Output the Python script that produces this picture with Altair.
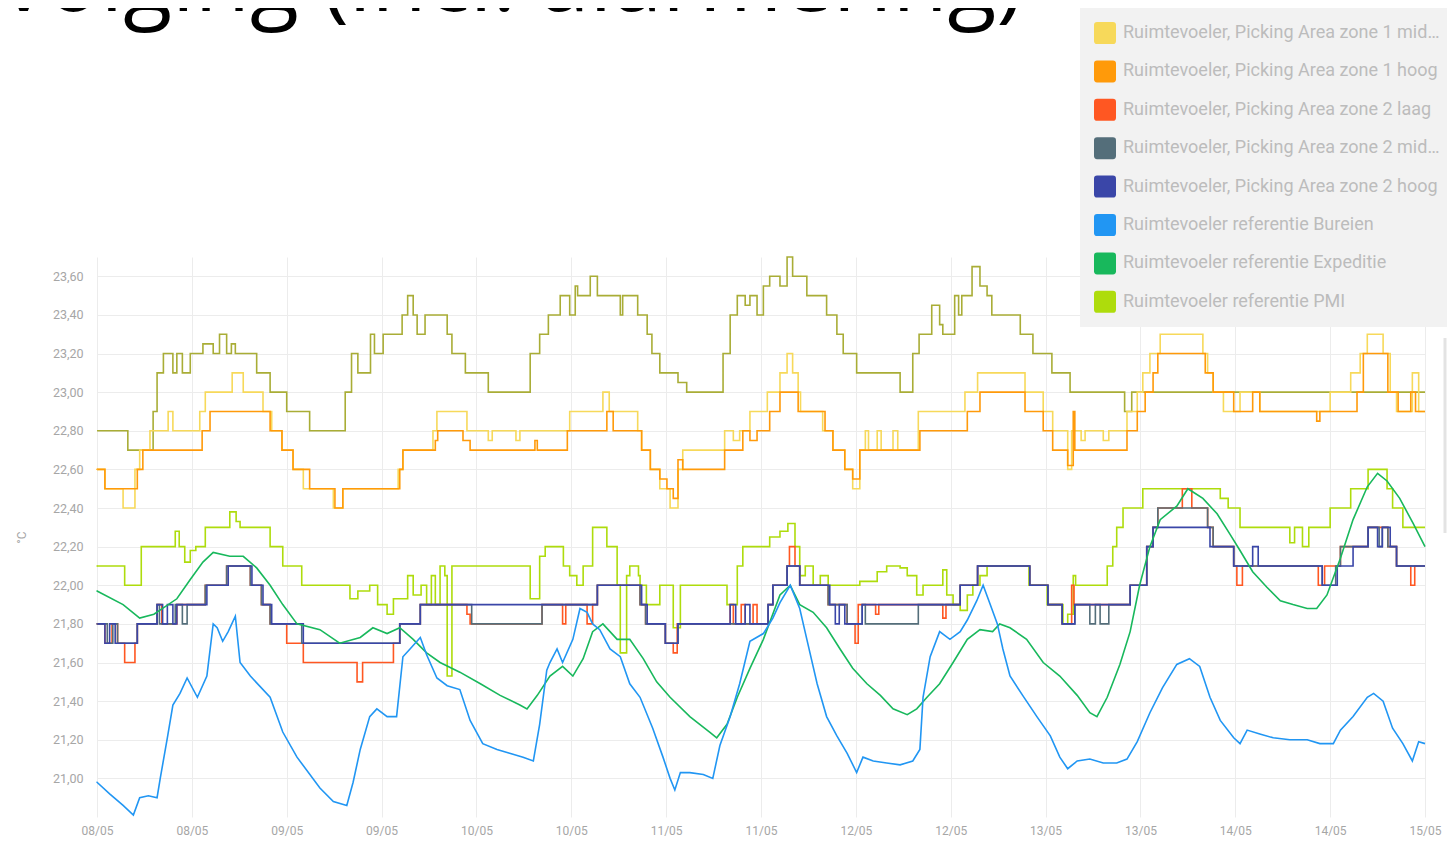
import altair as alt
import pandas as pd

TITLE = "Temperatuuropvolging (incl. alarmering)"
START = pd.Timestamp("2019-05-08 00:00:00")

NAMES = [
    "Ruimtevoeler, Picking Area zone 1 laag",
    "Ruimtevoeler, Picking Area zone 1 midden",
    "Ruimtevoeler, Picking Area zone 1 hoog",
    "Ruimtevoeler, Picking Area zone 2 laag",
    "Ruimtevoeler, Picking Area zone 2 midden",
    "Ruimtevoeler, Picking Area zone 2 hoog",
    "Ruimtevoeler referentie Bureien",
    "Ruimtevoeler referentie Expeditie",
    "Ruimtevoeler referentie PMI",
]
COLORS = ["#a9ad36", "#f7d95a", "#ff9a0a", "#ff5722", "#546e7a", "#3a46a8",
          "#2196f3", "#18b85c", "#aedc0c"]

Y_TICKS = [21.0, 21.2, 21.4, 21.6, 21.8, 22.0, 22.2, 22.4, 22.6, 22.8, 23.0, 23.2, 23.4, 23.6]
X_TICK_HOURS = [0, 12, 24, 36, 48, 60, 72, 84, 96, 108, 120, 132, 144, 156, 168]

# (hours since 08/05 00:00, °C) — stepped sensors
ZONE1_LAAG = [(0,22.8),(3.9,22.7),(7.1,22.9),(7.6,23.1),(8.4,23.2),(9.6,23.1),(10.1,23.2),(10.8,23.1),
    (11.8,23.2),(13.4,23.25),(14.7,23.2),(15.5,23.3),(16.4,23.2),(17.0,23.25),(17.5,23.2),(20.2,23.1),
    (21.9,23.0),(24.0,22.9),(26.9,22.8),(31.4,23.0),(32.2,23.2),(33.0,23.1),(34.6,23.3),(35.1,23.2),
    (36.2,23.3),(38.6,23.4),(39.3,23.5),(40.0,23.4),(40.5,23.3),(41.5,23.4),(44.3,23.3),(44.9,23.2),
    (46.6,23.1),(49.5,23.0),(54.8,23.2),(56.0,23.3),(57.1,23.4),(58.6,23.5),(59.8,23.4),(60.5,23.55),
    (60.8,23.5),(62.4,23.6),(63.3,23.5),(66.2,23.4),(66.5,23.5),(68.4,23.4),(69.6,23.3),(70.2,23.2),
    (71.2,23.1),(73.5,23.05),(74.6,23.0),(79.2,23.2),(80.1,23.4),(81.0,23.5),(82.0,23.45),(82.6,23.5),
    (83.5,23.4),(84.3,23.55),(85.1,23.6),(86.4,23.55),(87.3,23.7),(88.0,23.6),(89.8,23.5),(92.3,23.4),
    (93.6,23.3),(94.4,23.2),(96.1,23.1),(101.6,23.0),(103.2,23.2),(104.0,23.3),(105.6,23.45),(106.6,23.35),
    (107.0,23.3),(108.5,23.5),(109.0,23.4),(109.4,23.5),(110.7,23.65),(111.7,23.55),(112.6,23.5),(113.2,23.4),
    (116.8,23.3),(118.4,23.2),(120.8,23.1),(123.1,23.0),(130.0,22.9),(130.9,23.0),(168.0,23.0)]

ZONE1_MIDDEN = [(0,22.6),(1.0,22.5),(3.3,22.4),(4.8,22.6),(5.4,22.7),(6.7,22.8),(9.0,22.9),(9.6,22.8),
    (13.0,22.9),(13.7,23.0),(17.1,23.1),(18.5,23.0),(21.0,22.9),(22.1,22.8),(23.4,22.7),(24.8,22.6),
    (26.1,22.5),(29.9,22.4),(31.1,22.5),(38.1,22.6),(38.7,22.7),(42.5,22.8),(43.0,22.9),(46.8,22.8),
    (49.5,22.75),(50.0,22.8),(53.0,22.75),(53.5,22.8),(59.8,22.9),(64.0,23.0),(64.8,22.9),(68.4,22.8),
    (68.9,22.7),(70.0,22.6),(71.2,22.5),(72.5,22.4),(73.5,22.6),(74.1,22.7),(79.4,22.8),(80.5,22.75),
    (81.3,22.8),(82.6,22.9),(84.8,23.0),(86.4,23.1),(87.3,23.2),(88.0,23.1),(88.7,23.0),(89.0,22.9),
    (91.8,22.8),(93.1,22.7),(94.6,22.6),(95.6,22.5),(96.5,22.7),(97.2,22.8),(97.6,22.7),(98.7,22.8),
    (99.2,22.7),(100.7,22.8),(101.3,22.7),(103.9,22.9),(109.8,23.0),(111.4,23.1),(117.4,23.0),(119.7,22.9),
    (120.9,22.8),(122.8,22.6),(123.3,22.8),(124.5,22.75),(125.0,22.8),(127.3,22.75),(128.0,22.8),
    (130.3,22.9),(131.6,23.0),(132.3,23.1),(133.2,23.2),(134.5,23.3),(139.9,23.2),(140.5,23.1),(141.2,23.0),
    (142.5,22.9),(144.6,23.0),(147.1,22.9),(156.0,23.0),(158.6,23.1),(159.8,23.2),(160.7,23.3),(162.7,23.2),
    (163.6,23.0),(164.4,22.9),(166.4,23.1),(167.2,22.9),(168.0,22.9)]

ZONE1_HOOG = [(0,22.6),(1.0,22.5),(5.1,22.6),(5.8,22.7),(13.3,22.8),(14.3,22.9),(21.9,22.8),(23.4,22.7),
    (24.8,22.6),(26.9,22.5),(30.1,22.4),(31.1,22.5),(38.3,22.6),(38.7,22.7),(42.8,22.75),(43.1,22.8),
    (46.3,22.75),(47.2,22.7),(55.4,22.75),(55.7,22.7),(59.5,22.8),(64.5,22.9),(65.3,22.8),(68.9,22.7),
    (70.0,22.6),(71.2,22.55),(72.1,22.5),(72.9,22.45),(73.5,22.65),(74.1,22.6),(79.4,22.7),(81.7,22.8),
    (82.6,22.75),(83.5,22.8),(85.1,22.9),(86.4,23.0),(88.7,22.9),(92.1,22.8),(93.1,22.7),(94.6,22.6),
    (95.6,22.55),(96.5,22.7),(104.1,22.8),(110.1,22.9),(111.7,23.0),(117.4,22.9),(119.7,22.8),(120.9,22.7),
    (122.8,22.62),(123.5,22.9),(123.7,22.7),(130.3,22.8),(131.6,22.9),(132.6,23.0),(133.6,23.1),(134.2,23.2),
    (140.2,23.1),(141.2,23.0),(143.8,22.9),(146.2,23.0),(147.1,22.9),(154.3,22.85),(154.7,22.9),(159.4,23.0),
    (160.2,23.2),(163.3,23.0),(164.6,22.9),(166.2,23.0),(166.8,22.9),(168.0,22.9)]

ZONE2_LAAG = [(0,21.8),(1.0,21.7),(1.9,21.8),(2.6,21.7),(3.5,21.6),(4.8,21.7),(5.1,21.8),(7.6,21.9),
    (8.2,21.8),(10.1,21.9),(13.7,22.0),(16.4,22.1),(19.4,22.0),(20.8,21.9),(21.9,21.8),(24.0,21.7),
    (26.1,21.6),(32.9,21.5),(33.6,21.6),(37.5,21.7),(38.3,21.8),(40.9,21.9),(46.8,21.85),(47.2,21.8),
    (56.3,21.9),(58.9,21.8),(59.3,21.9),(62.0,21.8),(62.7,21.9),(63.3,22.0),(68.7,21.9),(69.4,21.8),
    (71.9,21.7),(72.9,21.65),(73.4,21.8),(80.1,21.9),(80.5,21.8),(81.5,21.9),(82.0,21.8),(83.0,21.9),
    (83.5,21.8),(84.9,21.9),(85.5,22.0),(87.3,22.1),(87.6,22.2),(88.3,22.1),(88.9,22.0),(92.5,21.9),
    (94.9,21.8),(95.9,21.7),(96.3,21.9),(98.5,21.85),(98.9,21.9),(107.0,21.83),(107.4,21.9),(109.2,22.0),
    (111.4,22.1),(118.0,22.0),(120.3,21.9),(122.1,21.8),(123.3,22.0),(123.6,21.9),(130.7,22.0),(132.8,22.2),
    (133.6,22.3),(134.2,22.4),(137.3,22.5),(138.5,22.4),(140.5,22.3),(141.2,22.2),(143.8,22.1),(144.2,22.0),
    (144.9,22.1),(154.5,22.0),(155.3,22.1),(157.3,22.2),(160.8,22.3),(163.3,22.2),(164.4,22.1),(166.2,22.0),
    (166.7,22.1),(168.0,22.1)]

ZONE2_MIDDEN = [(0,21.8),(1.3,21.7),(2.0,21.8),(2.6,21.7),(5.1,21.8),(7.6,21.9),(7.9,21.8),(9.9,21.9),
    (10.8,21.8),(11.4,21.9),(13.7,22.0),(16.4,22.1),(19.4,22.0),(20.8,21.9),(21.9,21.8),(25.9,21.7),
    (38.3,21.8),(40.9,21.9),(47.4,21.8),(56.3,21.9),(63.3,22.0),(68.7,21.9),(69.4,21.8),(71.9,21.7),
    (73.5,21.8),(84.9,21.9),(85.5,22.0),(87.3,22.1),(88.9,22.0),(92.5,21.9),(94.9,21.8),(96.8,21.9),
    (97.2,21.8),(103.9,21.9),(109.2,22.0),(111.4,22.1),(118.0,22.0),(120.3,21.9),(122.1,21.8),(123.7,21.9),
    (125.6,21.8),(126.3,21.9),(126.9,21.8),(128.0,21.9),(130.7,22.0),(132.8,22.2),(133.6,22.3),(134.2,22.4),
    (140.5,22.3),(141.2,22.2),(143.8,22.1),(155.0,22.0),(156.7,22.1),(157.3,22.2),(160.8,22.3),(162.2,22.2),
    (162.6,22.3),(163.3,22.2),(164.4,22.1),(168.0,22.1)]

ZONE2_HOOG = [(0,21.8),(1.0,21.7),(1.6,21.8),(2.3,21.7),(5.1,21.8),(7.6,21.9),(8.3,21.8),(8.9,21.9),
    (9.6,21.8),(10.1,21.9),(13.9,22.0),(16.6,22.1),(19.6,22.0),(21.0,21.9),(22.1,21.8),(26.1,21.7),
    (38.3,21.8),(40.9,21.9),(63.3,22.0),(68.9,21.9),(69.6,21.8),(71.9,21.7),(73.5,21.8),(80.1,21.9),
    (80.8,21.8),(82.0,21.9),(82.6,21.8),(84.9,21.9),(85.5,22.0),(87.3,22.1),(88.9,22.0),(92.7,21.9),
    (93.4,21.8),(93.9,21.9),(94.6,21.8),(96.8,21.9),(109.2,22.0),(111.4,22.1),(118.0,22.0),(120.3,21.9),
    (122.1,21.8),(123.7,21.9),(130.7,22.0),(132.8,22.2),(133.6,22.3),(140.8,22.2),(143.8,22.1),(146.2,22.2),
    (146.9,22.1),(155.0,22.0),(156.9,22.1),(158.9,22.2),(160.8,22.3),(162.0,22.2),(162.6,22.3),(163.6,22.2),
    (164.4,22.1),(168.0,22.1)]

PMI = [(0,22.1),(3.5,22.0),(5.6,22.2),(9.9,22.28),(10.4,22.2),(11.1,22.12),(11.8,22.18),(12.5,22.2),
    (13.7,22.3),(16.8,22.38),(17.6,22.33),(18.1,22.3),(21.9,22.2),(23.5,22.1),(25.9,22.0),(32.0,21.93),
    (33.0,21.97),(34.5,22.0),(35.5,21.9),(36.7,21.85),(37.5,21.93),(39.3,22.05),(40.0,21.95),(41.0,22.0),
    (41.7,21.9),(42.3,22.05),(42.8,21.9),(43.4,22.1),(44.0,22.05),(44.3,21.53),(44.9,22.1),(54.8,21.93),
    (56.0,22.15),(56.7,22.2),(59.0,22.1),(59.8,22.05),(60.7,22.0),(61.5,22.1),(62.7,22.3),(64.5,22.2),
    (65.8,22.0),(66.2,21.65),(67.0,22.05),(67.4,22.1),(68.5,22.05),(68.7,22.0),(69.5,21.9),(71.2,22.0),
    (72.9,21.78),(73.8,22.0),(79.7,21.9),(81.0,22.1),(81.7,22.2),(85.1,22.25),(86.4,22.28),(87.4,22.32),
    (88.3,22.2),(88.9,22.05),(89.6,22.1),(90.6,22.0),(91.5,22.05),(92.5,22.0),(96.5,22.02),(98.7,22.07),
    (99.9,22.1),(101.6,22.09),(102.5,22.05),(103.7,21.95),(104.5,22.0),(107.0,22.08),(107.5,21.95),
    (108.3,21.9),(109.2,21.87),(110.1,21.95),(110.8,22.0),(111.7,22.05),(112.6,22.1),(117.9,22.0),
    (120.2,21.9),(122.2,21.8),(122.8,21.85),(123.5,22.05),(123.8,22.0),(127.8,22.1),(128.5,22.2),
    (129.0,22.3),(129.8,22.4),(132.3,22.5),(142.1,22.45),(143.1,22.4),(144.6,22.3),(150.9,22.22),
    (151.5,22.3),(152.5,22.2),(153.3,22.3),(156.0,22.4),(158.6,22.5),(160.8,22.6),(163.2,22.5),
    (163.9,22.4),(165.2,22.3),(168.0,22.3)]

# smooth sensors
BUREIEN = [(0,20.98),(1.6,20.92),(3.3,20.86),(4.6,20.81),(5.4,20.9),(6.5,20.91),(7.6,20.9),(8.0,21.0),
    (8.9,21.21),(9.6,21.38),(10.5,21.44),(11.4,21.52),(12.7,21.42),(13.9,21.53),(14.7,21.8),(15.2,21.78),
    (15.9,21.71),(16.6,21.76),(17.5,21.84),(18.1,21.6),(19.4,21.53),(21.9,21.42),(23.5,21.24),(25.3,21.11),
    (28.2,20.95),(29.9,20.88),(31.6,20.86),(32.4,20.98),(33.3,21.15),(34.5,21.32),(35.4,21.36),(36.7,21.32),
    (37.9,21.32),(38.7,21.63),(39.6,21.67),(40.9,21.73),(41.7,21.64),(43.0,21.52),(44.3,21.48),(45.9,21.46),
    (47.2,21.3),(48.8,21.18),(50.6,21.15),(52.2,21.13),(53.9,21.11),(55.2,21.09),(56.0,21.28),(56.9,21.56),
    (57.3,21.6),(58.2,21.67),(58.9,21.6),(60.2,21.72),(61.1,21.88),(62.0,21.86),(62.7,21.8),(63.6,21.77),
    (64.9,21.67),(66.2,21.63),(67.4,21.49),(68.7,21.42),(70.3,21.26),(71.6,21.11),(72.5,21.0),(73.1,20.94),
    (73.8,21.03),(75.0,21.03),(76.7,21.02),(77.9,21.0),(78.8,21.17),(80.1,21.32),(81.3,21.49),(82.6,21.71),
    (84.3,21.75),(85.5,21.83),(86.4,21.91),(87.7,22.0),(88.9,21.88),(89.8,21.72),(91.1,21.49),(92.3,21.32),
    (93.6,21.22),(94.9,21.13),(96.1,21.03),(96.9,21.11),(98.2,21.09),(99.9,21.08),(101.6,21.07),(103.2,21.09),
    (104.1,21.15),(104.5,21.42),(105.4,21.63),(106.6,21.76),(107.9,21.72),(109.2,21.76),(110.1,21.82),
    (111.3,21.92),(112.1,22.0),(113.0,21.9),(113.9,21.8),(114.6,21.67),(115.5,21.53),(117.1,21.43),
    (118.9,21.32),(120.6,21.22),(121.8,21.11),(122.8,21.05),(124.0,21.09),(125.6,21.1),(127.3,21.08),
    (129.0,21.08),(130.3,21.1),(131.6,21.19),(133.2,21.34),(134.8,21.47),(136.6,21.59),(138.2,21.62),
    (139.5,21.58),(140.8,21.42),(142.1,21.3),(143.8,21.21),(144.6,21.18),(145.5,21.25),(147.1,21.23),
    (148.8,21.21),(150.9,21.2),(153.1,21.2),(154.7,21.18),(156.4,21.18),(157.3,21.25),(158.9,21.32),
    (160.7,21.42),(161.5,21.44),(162.7,21.4),(163.9,21.26),(165.2,21.18),(166.4,21.09),(167.2,21.19),
    (168.0,21.18)]

EXPEDITIE = [(0,21.97),(3.3,21.9),(5.4,21.83),(7.2,21.85),(8.3,21.88),(10.1,21.93),(11.8,22.03),
    (13.4,22.12),(14.7,22.17),(16.8,22.15),(18.5,22.15),(20.2,22.09),(21.9,22.0),(23.5,21.9),(25.3,21.8),
    (28.2,21.77),(30.7,21.7),(33.3,21.73),(34.9,21.78),(36.7,21.75),(38.3,21.78),(40.0,21.72),(41.7,21.65),
    (43.4,21.6),(45.9,21.55),(48.5,21.49),(51.0,21.43),(53.5,21.38),(54.4,21.36),(55.7,21.43),(57.3,21.53),
    (58.9,21.58),(60.2,21.53),(61.5,21.62),(62.7,21.76),(64.0,21.8),(65.8,21.72),(67.4,21.72),(69.1,21.62),
    (70.8,21.5),(72.5,21.42),(75.0,21.32),(77.5,21.24),(78.4,21.21),(79.7,21.28),(81.0,21.42),(82.6,21.57),
    (84.3,21.72),(86.4,21.95),(87.7,22.0),(88.9,21.9),(90.6,21.86),(92.3,21.78),(94.0,21.67),(95.6,21.57),
    (97.4,21.49),(99.1,21.43),(100.7,21.36),(102.5,21.33),(103.7,21.36),(105.0,21.42),(106.6,21.49),
    (108.3,21.6),(110.1,21.72),(111.7,21.77),(113.3,21.76),(114.2,21.8),(115.5,21.78),(117.6,21.72),
    (119.7,21.6),(121.8,21.53),(124.0,21.43),(125.6,21.34),(126.5,21.32),(127.8,21.42),(129.4,21.59),
    (130.7,21.76),(131.9,22.0),(133.2,22.2),(134.5,22.34),(136.6,22.41),(138.0,22.5),(139.9,22.45),
    (141.7,22.37),(143.4,22.26),(144.6,22.18),(146.2,22.07),(148.0,21.99),(149.7,21.92),(151.3,21.9),
    (153.1,21.88),(154.3,21.88),(155.6,21.95),(157.3,22.14),(158.9,22.34),(160.7,22.51),(162.0,22.58),
    (163.2,22.54),(164.8,22.45),(166.5,22.32),(168.0,22.2)]

STEPPED = [(NAMES[0], ZONE1_LAAG), (NAMES[1], ZONE1_MIDDEN), (NAMES[2], ZONE1_HOOG),
           (NAMES[8], PMI), (NAMES[3], ZONE2_LAAG), (NAMES[4], ZONE2_MIDDEN), (NAMES[5], ZONE2_HOOG)]
SMOOTH = [(NAMES[7], EXPEDITIE), (NAMES[6], BUREIEN)]
LEGEND_NAMES = NAMES[1:]
LEGEND_COLORS = COLORS[1:]


def frame(series):
    rows = []
    for order, (name, pts) in enumerate(series):
        for h, v in pts:
            rows.append({"tijd": START + pd.Timedelta(hours=h), "temp": v, "sensor": name, "volg": order})
    return pd.DataFrame(rows)


step_df = frame(STEPPED)
smooth_df = frame(SMOOTH)
# first reading of each legend sensor (used to build the legend)
first = {n: p[0][1] for n, p in STEPPED + SMOOTH}
legend_df = pd.DataFrame({"tijd": [START] * len(LEGEND_NAMES),
                          "temp": [first[n] for n in LEGEND_NAMES],
                          "sensor": LEGEND_NAMES})

x_ticks = [alt.DateTime(year=2019, month=5, date=8 + h // 24, hours=h % 24) for h in X_TICK_HOURS]

x_enc = alt.X(
    "tijd:T",
    scale=alt.Scale(domain=[alt.DateTime(year=2019, month=5, date=8),
                            alt.DateTime(year=2019, month=5, date=15)], nice=False),
    axis=alt.Axis(title=None, values=x_ticks, format="%d/%m", labelFont="Roboto", labelFontSize=12,
                  labelColor="#a6a6a6", labelPadding=8, ticks=False, domain=False,
                  gridColor="#ececec", labelOverlap=False, labelFlush=False),
)
y_enc = alt.Y(
    "temp:Q",
    scale=alt.Scale(domain=[20.8, 23.7], nice=False, zero=False),
    axis=alt.Axis(title="°C", values=Y_TICKS,
                  labelExpr="replace(format(datum.value, '.2f'), '.', ',')",
                  labelFont="Roboto", labelFontSize=12.5, labelColor="#a6a6a6", labelPadding=14,
                  ticks=False, domain=False, gridColor="#ececec", titleFont="Roboto",
                  titleFontSize=12, titleFontWeight="normal", titleColor="#a6a6a6", titlePadding=24),
)
color_scale = alt.Scale(domain=NAMES, range=COLORS)

rounded_square = ("M-0.72,-1L0.72,-1Q1,-1 1,-0.72L1,0.72Q1,1 0.72,1L-0.72,1Q-1,1 -1,0.72"
                  "L-1,-0.72Q-1,-1 -0.72,-1Z")

legend = alt.Legend(
    title=None, orient="none", legendX=983, legendY=-249, direction="vertical",
    fillColor="#f2f2f2", padding=14, symbolType=rounded_square,
    symbolSize=484, symbolStrokeWidth=0, symbolOpacity=1, labelFont="Roboto", labelFontSize=18,
    labelFontWeight="normal", labelColor="#bcbcbc", labelLimit=322, labelOffset=7, rowPadding=16.4,
)

steps = alt.Chart(step_df).mark_line(interpolate="step-after", strokeWidth=1.6).encode(
    x=x_enc, y=y_enc, color=alt.Color("sensor:N", scale=color_scale, legend=None),
    detail="sensor:N", order="volg:Q",
)
smooth = alt.Chart(smooth_df).mark_line(strokeWidth=1.6).encode(
    x=x_enc, y=y_enc, color=alt.Color("sensor:N", scale=color_scale, legend=None),
)
legend_layer = alt.Chart(legend_df).mark_square(filled=True, size=2).encode(
    x=x_enc, y=y_enc,
    fill=alt.Fill("sensor:N", scale=alt.Scale(domain=LEGEND_NAMES, range=LEGEND_COLORS), legend=legend),
)
title = alt.Chart(pd.DataFrame({"titel": [TITLE]})).mark_text(
    align="right", baseline="alphabetic", font="Open Sans", fontSize=90, color="#000000"
).encode(x=alt.value(926), y=alt.value(-246), text="titel:N")
scrollbar = alt.Chart(pd.DataFrame({"s": [0]})).mark_rule(color="#e3e3e3", strokeWidth=3).encode(
    x=alt.value(1348), y=alt.value(81), y2=alt.value(276)
)

chart = alt.layer(steps, smooth, legend_layer, title, scrollbar).properties(
    width=1328, height=560,
    autosize=alt.AutoSizeParams(type="none"),
    padding={"left": 89, "top": 249, "right": 22, "bottom": 20},
    background="#ffffff",
).resolve_scale(color="independent", fill="independent").configure_view(stroke=None)

chart.save("out.html", embed_options={"renderer": "svg", "actions": False})
